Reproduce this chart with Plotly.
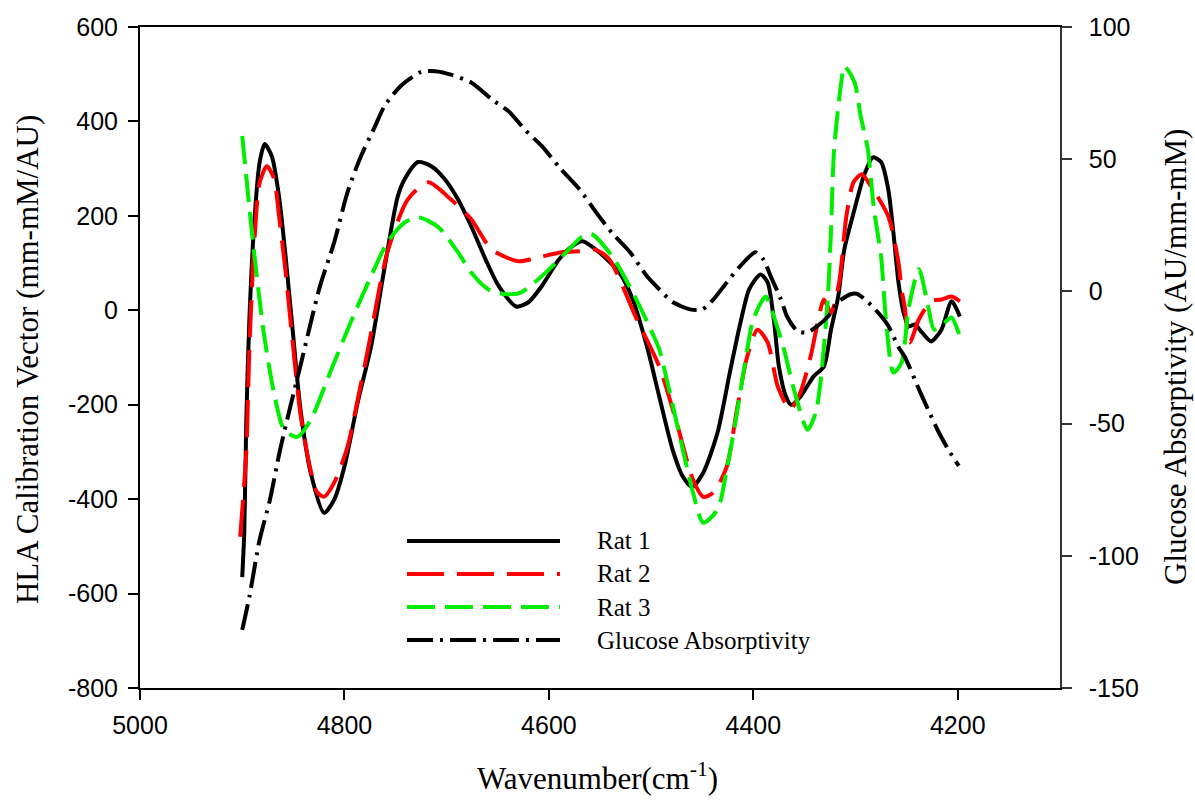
import plotly.graph_objects as go

# ---- data ----
rat1_x = [4900, 4898, 4896, 4893, 4888, 4883, 4878, 4871, 4864, 4858, 4851, 4843, 4833, 4820, 4810, 4800,
          4787, 4774, 4761, 4748, 4741, 4728, 4715, 4702, 4689, 4676, 4662, 4649, 4632, 4620, 4607, 4590,
          4577, 4567, 4551, 4531, 4518, 4504, 4492, 4479, 4469, 4460, 4449, 4435, 4423, 4413, 4404,
          4393, 4386, 4380, 4375, 4368, 4363, 4354, 4341, 4331, 4324, 4317, 4311, 4301, 4292, 4283, 4275,
          4268, 4263, 4258, 4253, 4248, 4242, 4235, 4226, 4216, 4206, 4198]
rat1_y = [-565, -471, -232, -19, 193, 313, 352, 326, 241, 123, -34, -210, -344, -429, -401, -331,
          -195, -77, 87, 240, 278, 314, 305, 278, 235, 178, 108, 51, 8, 17, 51, 108,
          136, 146, 123, 80, 23, -77, -183, -295, -352, -374, -344, -259, -132, -30, 45,
          76, 59, -19, -119, -183, -200, -183, -140, -119, -41, 29, 129, 214, 284, 324, 314,
          256, 165, 59, -5, -34, -30, -47, -66, -41, 19, -13]

rat2_x = [4902, 4896, 4893, 4888, 4883, 4876, 4869, 4864, 4858, 4851, 4843, 4833, 4827, 4820, 4810, 4797,
          4787, 4777, 4758, 4738, 4718, 4696, 4676, 4656, 4630, 4607, 4587, 4570, 4554, 4541, 4514, 4492,
          4475, 4459, 4449, 4439, 4426, 4416, 4406, 4396, 4386, 4376, 4364, 4354, 4344, 4337, 4331, 4324,
          4316, 4309, 4302, 4294, 4285, 4268, 4258, 4255, 4252, 4247, 4238, 4226, 4216, 4206, 4198]
rat2_y = [-480, -300, -80, 150, 270, 305, 280, 200, 90, -60, -220, -340, -385, -395, -365, -289,
          -189, -83, 123, 235, 271, 235, 193, 129, 104, 114, 123, 125, 128, 108, -19, -119,
          -238, -359, -395, -386, -331, -210, -98, -41, -68, -162, -210, -174, -98, -26, 23, -5,
          59, 199, 271, 288, 263, 199, 101, 44, 8, -68, -19, 19, 23, 29, 19]

rat3_x = [4900, 4889, 4879, 4869, 4859, 4846, 4833, 4814, 4794, 4774, 4758, 4741, 4728, 4708, 4689, 4676,
          4659, 4642, 4627, 4603, 4583, 4567, 4558, 4538, 4518, 4499, 4492, 4475, 4459, 4449, 4435, 4426,
          4416, 4406, 4400, 4388, 4380, 4370, 4361, 4347, 4339, 4334, 4327, 4324, 4321, 4314, 4311, 4301,
          4295, 4288, 4282, 4275, 4270, 4263, 4255, 4248, 4238, 4229, 4223, 4209, 4206, 4198]
rat3_y = [369, 135, -47, -174, -253, -268, -232, -132, -26, 72, 144, 186, 197, 176, 123, 80,
          44, 34, 38, 80, 123, 157, 161, 114, 38, -47, -83, -238, -386, -450, -422, -338,
          -217, -83, -19, 29, -13, -83, -162, -253, -217, -147, 29, 171, 341, 483, 517, 483,
          411, 341, 214, 114, -26, -132, -111, 5, 87, 8, -41, -19, -15, -55]

glu_x = [4900, 4893, 4883, 4873, 4863, 4853, 4843, 4824, 4810, 4797, 4784, 4770, 4761, 4745, 4725, 4711,
         4696, 4676, 4656, 4639, 4623, 4607, 4590, 4570, 4554, 4538, 4521, 4504, 4492, 4479, 4462, 4450,
         4439, 4426, 4413, 4398, 4390, 4383, 4373, 4367, 4357, 4347, 4337, 4327, 4317, 4304, 4298, 4288,
         4278, 4268, 4258, 4252, 4238, 4229, 4219, 4209, 4199]
glu_y = [-128, -115.5, -94, -79, -60, -43.6, -28, 1.9, 18.6, 37.5, 51, 62.5, 70, 77.7, 83, 83.3,
         82, 79, 72.7, 68, 61, 55, 47, 38.6, 30, 22, 15, 5.7, 0.8, -4, -6.8, -6.8,
         -3, 3.4, 9.5, 14.8, 12, 5.7, -3, -9.5, -15, -15.5, -13, -9.5, -4, -1, -1, -4,
         -8, -13, -21, -24.6, -37, -44.7, -53, -60, -66]

x_ticks = [5000, 4800, 4600, 4400, 4200]
x_ticklabels = ["5000", "4800", "4600", "4400", "4200"]
y_ticks = [-800, -600, -400, -200, 0, 200, 400, 600]
y_ticklabels = ["-800", "-600", "-400", "-200", "0", "200", "400", "600"]
y2_ticks = [-150, -100, -50, 0, 50, 100]
y2_ticklabels = ["-150", "-100", "-50", "0", "50", "100"]

series_names = ["Rat 1", "Rat 2", "Rat 3", "Glucose Absorptivity"]
series_colors = ["#000000", "#ff0000", "#00ee00", "#000000"]
series_dash = ["solid", "37px,13px", "28px,10px", "26px,7px,3px,7px"]

x_title = "Wavenumber(cm<sup>-1</sup>)"
y_title = "HLA Calibration Vector (mm-mM/AU)"
y2_title = "Glucose Absorptivity (AU/mm-mM)"

SANS = "Arial, Liberation Sans, sans-serif"
SERIF = "Times New Roman, Liberation Serif, serif"
LW = 4

fig = go.Figure()
data = [(rat1_x, rat1_y, "y"), (rat2_x, rat2_y, "y"), (rat3_x, rat3_y, "y"), (glu_x, glu_y, "y2")]
for (xs, ys, ax), name, col, dash in zip(data, series_names, series_colors, series_dash):
    fig.add_trace(go.Scatter(x=xs, y=ys, name=name, mode="lines", yaxis=ax,
                             line=dict(color=col, width=LW, dash=dash, shape="spline", smoothing=0.7)))

# legend drawn manually (long sample lines as in the reference)
leg_y = [0.2224, 0.1725, 0.1225, 0.0726]
for name, col, dash, yy in zip(series_names, series_colors, series_dash, leg_y):
    fig.add_shape(type="line", xref="paper", yref="paper", x0=0.2902, x1=0.4565, y0=yy, y1=yy,
                  line=dict(color=col, width=LW, dash=dash))
    fig.add_annotation(xref="paper", yref="paper", x=0.4946, y=yy, text=name, showarrow=False,
                       xanchor="left", yanchor="middle", font=dict(family=SERIF, size=25, color="black"))

# axis titles
title_font = dict(family=SERIF, size=31, color="black")
fig.add_annotation(xref="paper", yref="paper", x=0.4978, y=-0.1346, text=x_title, showarrow=False,
                   xanchor="center", yanchor="middle", font=title_font)
fig.add_annotation(xref="paper", yref="paper", x=-0.1228, y=0.4962, text=y_title, showarrow=False,
                   textangle=-90, xanchor="center", yanchor="middle", font=title_font)
fig.add_annotation(xref="paper", yref="paper", x=1.1261, y=0.5008, text=y2_title, showarrow=False,
                   textangle=-90, xanchor="center", yanchor="middle", font=title_font)

tick_font = dict(family=SANS, size=25, color="black")
fig.update_layout(
    width=1195, height=803,
    margin=dict(l=140, r=135, t=27, b=115, pad=0),
    paper_bgcolor="white", plot_bgcolor="white",
    showlegend=False,
    xaxis=dict(range=[5000, 4100], tickvals=x_ticks, ticktext=x_ticklabels, ticks="outside", ticklen=10,
               tickwidth=1.5, tickcolor="black", showline=True, linecolor="black", linewidth=2, mirror=True,
               showgrid=False, zeroline=False, tickfont=tick_font, ticklabelstandoff=4, automargin=False),
    yaxis=dict(range=[-800, 600], tickvals=y_ticks, ticktext=y_ticklabels, ticks="outside", ticklen=10,
               tickwidth=1.5, tickcolor="black", showline=True, linecolor="black", linewidth=2,
               showgrid=False, zeroline=False, tickfont=tick_font, ticklabelstandoff=5, automargin=False),
    yaxis2=dict(range=[-150, 100], tickvals=y2_ticks, ticktext=y2_ticklabels, overlaying="y", side="right",
                ticks="outside", ticklen=10, tickwidth=1.5, tickcolor="#333333", showline=True,
                linecolor="#333333", linewidth=1.5, showgrid=False, zeroline=False,
                tickfont=tick_font, ticklabelstandoff=12, automargin=False),
)

fig.write_html("out.html", config={"displayModeBar": False},
               post_script="document.body.style.margin='0';document.body.style.padding='0';")
